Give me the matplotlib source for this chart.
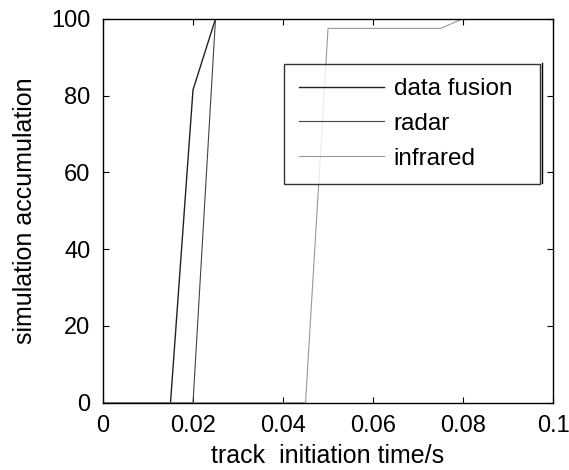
import matplotlib
matplotlib.use("Agg")
import matplotlib.pyplot as plt
from matplotlib.lines import Line2D

plt.rcParams["font.family"] = ["Liberation Sans", "DejaVu Sans"]

# curves
fusion_t = [0.0, 0.015, 0.020, 0.025, 0.1]
fusion_acc = [0, 0, 81.5, 100, 100]
radar_t = [0.0, 0.020, 0.025, 0.1]
radar_acc = [0, 0, 100, 100]
infrared_t = [0.0, 0.045, 0.050, 0.075, 0.080, 0.1]
infrared_acc = [0, 0, 97.5, 97.5, 100, 100]

xticks = [0, 0.02, 0.04, 0.06, 0.08, 0.1]
xtick_labels = ["0", "0.02", "0.04", "0.06", "0.08", "0.1"]
yticks = [0, 20, 40, 60, 80, 100]

fig = plt.figure(figsize=(5.69, 4.70), dpi=100)
ax = fig.add_axes([0.181, 0.143, 0.791, 0.817])

ax.plot(fusion_t, fusion_acc, color="#222222", lw=1.0, label="data fusion")
ax.plot(radar_t, radar_acc, color="#444444", lw=0.8, label="radar")
ax.plot(infrared_t, infrared_acc, color="#999999", lw=0.8, label="infrared")

ax.set_xlim(0, 0.1)
ax.set_ylim(0, 100)
ax.set_xticks(xticks)
ax.set_xticklabels(xtick_labels)
ax.set_yticks(yticks)
ax.tick_params(direction="in", top=True, right=True, labelsize=17, length=4)
ax.tick_params(axis="x", pad=9)
ax.tick_params(axis="y", pad=9)
for s in ax.spines.values():
    s.set_linewidth(1.0)

ax.set_xlabel("track  initiation time/s", fontsize=18, labelpad=5)
ax.set_ylabel("simulation accumulation", fontsize=18, labelpad=10)

leg = ax.legend(loc="upper left", bbox_to_anchor=(0.402, 0.883, 0.569, 0.0),
                mode="expand", fontsize=17.5, frameon=True, fancybox=False,
                edgecolor="black", handlelength=3.5, handletextpad=0.41,
                borderpad=0.6, labelspacing=0.52, borderaxespad=0)
leg.get_frame().set_linewidth(1.0)

# MATLAB-style double right edge of the legend box
fig.add_artist(Line2D([542 / 569, 542 / 569], [1 - 63 / 470, 1 - 183 / 470],
                      color="black", lw=1.0))

plt.savefig("out.png", dpi=100)
